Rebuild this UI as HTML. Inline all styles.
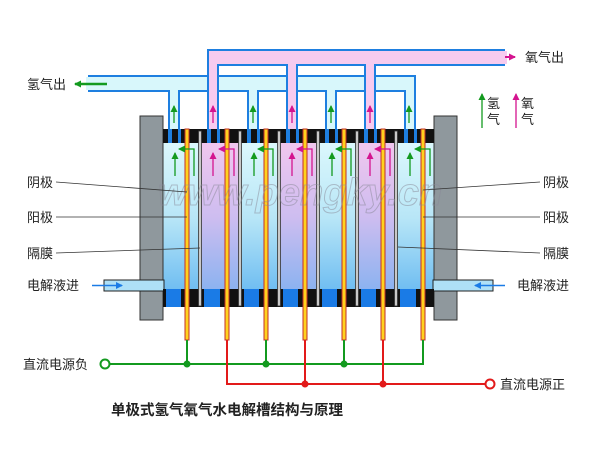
<!DOCTYPE html>
<html><head><meta charset="utf-8"><style>
html,body{margin:0;padding:0;background:#fff}
svg{display:block}
text{font-family:"Liberation Sans","Noto Sans CJK SC",sans-serif;font-size:13px;fill:#222}
</style></head><body>
<svg width="600" height="450" viewBox="0 0 600 450" xmlns="http://www.w3.org/2000/svg">
<defs>
<linearGradient id="cy" x1="0" y1="0" x2="0" y2="1"><stop offset="0" stop-color="#e2fbfd"/><stop offset="0.5" stop-color="#b8e6f7"/><stop offset="1" stop-color="#5fb4f0"/></linearGradient>
<linearGradient id="pk" x1="0" y1="0" x2="0" y2="1"><stop offset="0" stop-color="#f7c8ee"/><stop offset="0.5" stop-color="#cdbdf0"/><stop offset="1" stop-color="#7cb0f0"/></linearGradient>
<marker id="ag" markerUnits="userSpaceOnUse" markerWidth="7" markerHeight="7" refX="6" refY="3.5" orient="auto"><path d="M0,0 L7,3.5 L0,7z" fill="#139a1f"/></marker>
<marker id="ap" markerUnits="userSpaceOnUse" markerWidth="7" markerHeight="7" refX="6" refY="3.5" orient="auto"><path d="M0,0 L7,3.5 L0,7z" fill="#d4148f"/></marker>
<marker id="ab" markerUnits="userSpaceOnUse" markerWidth="7" markerHeight="7" refX="6" refY="3.5" orient="auto"><path d="M0,0 L7,3.5 L0,7z" fill="#1a7be6"/></marker>
</defs>
<rect x="163" y="129" width="271" height="178" fill="url(#cy)"/>
<rect x="200" y="129" width="40" height="178" fill="url(#pk)"/>
<rect x="279" y="129" width="39" height="178" fill="url(#pk)"/>
<rect x="357" y="129" width="39" height="178" fill="url(#pk)"/>
<g fill="#1e7fe0">
<rect x="88" y="75" width="328" height="17"/>
<rect x="168" y="75" width="12" height="56"/><rect x="247" y="75" width="12" height="56"/>
<rect x="325" y="75" width="12" height="56"/><rect x="404" y="75" width="12" height="56"/>
</g>
<g fill="#d8f7fb">
<rect x="86" y="77" width="328" height="13"/>
<rect x="170" y="77" width="8" height="56"/><rect x="249" y="77" width="8" height="56"/>
<rect x="327" y="77" width="8" height="56"/><rect x="406" y="77" width="8" height="56"/>
</g>
<g fill="#1e7fe0">
<rect x="207" y="49" width="298" height="17"/>
<rect x="207" y="49" width="12" height="82"/><rect x="286" y="49" width="12" height="82"/><rect x="364" y="49" width="12" height="82"/>
</g>
<g fill="#f7cbef">
<rect x="209" y="51" width="298" height="13"/>
<rect x="209" y="51" width="8" height="82"/><rect x="288" y="51" width="8" height="82"/><rect x="366" y="51" width="8" height="82"/>
</g>
<g fill="#8f989d" stroke="#333" stroke-width="1">
<rect x="140" y="116" width="23" height="164"/><rect x="140" y="291" width="23" height="29"/>
<rect x="434" y="116" width="23" height="164"/><rect x="434" y="291" width="23" height="29"/>
</g>
<rect x="104" y="280" width="60" height="11" fill="#aee0f7" stroke="#222" stroke-width="1"/>
<rect x="433" y="280" width="60" height="11" fill="#aee0f7" stroke="#222" stroke-width="1"/>
<line x1="92" y1="285.5" x2="122" y2="285.5" stroke="#1a7be6" stroke-width="1.5" marker-end="url(#ab)"/>
<line x1="505" y1="285.5" x2="475" y2="285.5" stroke="#1a7be6" stroke-width="1.5" marker-end="url(#ab)"/>
<rect x="163" y="129" width="271" height="14" fill="#111"/>
<g fill="#1e7fe0">
<rect x="168" y="129" width="4" height="14"/><rect x="178" y="129" width="3" height="14"/>
<rect x="207" y="129" width="4" height="14"/><rect x="217" y="129" width="3" height="14"/>
<rect x="247" y="129" width="4" height="14"/><rect x="257" y="129" width="3" height="14"/>
<rect x="286" y="129" width="4" height="14"/><rect x="296" y="129" width="3" height="14"/>
<rect x="325" y="129" width="4" height="14"/><rect x="335" y="129" width="3" height="14"/>
<rect x="364" y="129" width="4" height="14"/><rect x="374" y="129" width="3" height="14"/>
<rect x="404" y="129" width="4" height="14"/><rect x="414" y="129" width="3" height="14"/>
</g>
<rect x="163" y="289" width="271" height="18" fill="#1a7be6"/>
<g fill="#111">
<rect x="163" y="289" width="3" height="18"/>
<rect x="181" y="289" width="23" height="18"/><rect x="220" y="289" width="24" height="18"/>
<rect x="259" y="289" width="24" height="18"/><rect x="298" y="289" width="24" height="18"/>
<rect x="337" y="289" width="24" height="18"/><rect x="376" y="289" width="24" height="18"/>
<rect x="416" y="289" width="18" height="18"/>
</g>
<g fill="#c9c9c9" stroke="#333" stroke-width="0.8">
<rect x="198.5" y="131" width="3" height="175"/><rect x="238.5" y="131" width="3" height="175"/>
<rect x="277.5" y="131" width="3" height="175"/><rect x="316.5" y="131" width="3" height="175"/>
<rect x="355.5" y="131" width="3" height="175"/><rect x="394.5" y="131" width="3" height="175"/>
</g>
<g fill="#ffd21e" stroke="#c0302a" stroke-width="1">
<rect x="185" y="129" width="4" height="211"/><rect x="225" y="129" width="4" height="211"/>
<rect x="264" y="129" width="4" height="211"/><rect x="303" y="129" width="4" height="211"/>
<rect x="342" y="129" width="4" height="211"/><rect x="381" y="129" width="4" height="211"/>
<rect x="421" y="129" width="4" height="211"/>
</g>
<g stroke="#139a1f" stroke-width="1.3" fill="none">
<line x1="174" y1="123" x2="174" y2="106" marker-end="url(#ag)"/><line x1="253" y1="123" x2="253" y2="106" marker-end="url(#ag)"/>
<line x1="331" y1="123" x2="331" y2="106" marker-end="url(#ag)"/><line x1="409" y1="123" x2="409" y2="106" marker-end="url(#ag)"/>
<line x1="175" y1="176" x2="175" y2="153" marker-end="url(#ag)"/><line x1="254" y1="176" x2="254" y2="153" marker-end="url(#ag)"/>
<line x1="332" y1="176" x2="332" y2="153" marker-end="url(#ag)"/><line x1="410" y1="176" x2="410" y2="153" marker-end="url(#ag)"/>
<path d="M194,176 V149 H179" marker-end="url(#ag)"/><path d="M273,176 V149 H258" marker-end="url(#ag)"/>
<path d="M351,176 V149 H336" marker-end="url(#ag)"/><path d="M430,176 V149 H415" marker-end="url(#ag)"/>
<line x1="482" y1="128" x2="482" y2="94" marker-end="url(#ag)"/>
<line x1="107" y1="84" x2="75" y2="84" stroke-width="2.5" marker-end="url(#ag)"/>
</g>
<g stroke="#d4148f" stroke-width="1.3" fill="none">
<line x1="213" y1="123" x2="213" y2="106" marker-end="url(#ap)"/><line x1="292" y1="123" x2="292" y2="106" marker-end="url(#ap)"/>
<line x1="370" y1="123" x2="370" y2="106" marker-end="url(#ap)"/>
<line x1="213" y1="176" x2="213" y2="153" marker-end="url(#ap)"/><line x1="292" y1="176" x2="292" y2="153" marker-end="url(#ap)"/>
<line x1="370" y1="176" x2="370" y2="153" marker-end="url(#ap)"/>
<path d="M234,176 V149 H219" marker-end="url(#ap)"/><path d="M312,176 V149 H297" marker-end="url(#ap)"/>
<path d="M390,176 V149 H375" marker-end="url(#ap)"/>
<line x1="516" y1="128" x2="516" y2="94" marker-end="url(#ap)"/>
<line x1="505" y1="57" x2="515" y2="57" stroke-width="2" marker-end="url(#ap)"/>
</g>
<text x="300" y="205" text-anchor="middle" style="font-size:38px;font-style:italic;font-weight:bold;fill:none;stroke:#8a8a99;stroke-width:1;opacity:0.5">www.pengky.cn</text>
<g stroke="#333" stroke-width="0.8">
<line x1="56" y1="182" x2="187" y2="192"/><line x1="56" y1="217" x2="187" y2="217"/><line x1="56" y1="253" x2="200" y2="248"/>
<line x1="540" y1="182" x2="423" y2="190"/><line x1="540" y1="217" x2="423" y2="217"/><line x1="540" y1="253" x2="398" y2="247"/>
</g>
<g fill="none" stroke-width="2">
<path d="M187,340 V364 M266,340 V364 M344,340 V364 M423,340 V364 H110" stroke="#139a1f"/>
<path d="M227,340 V384 H485 M305,340 V384 M383,340 V384" stroke="#e21a1a"/>
</g>
<g fill="#139a1f"><circle cx="187" cy="364" r="3.5"/><circle cx="266" cy="364" r="3.5"/><circle cx="344" cy="364" r="3.5"/></g>
<g fill="#e21a1a"><circle cx="305" cy="384" r="3.5"/><circle cx="383" cy="384" r="3.5"/></g>
<circle cx="105" cy="364" r="4.5" fill="#fff" stroke="#139a1f" stroke-width="2"/>
<circle cx="490" cy="384" r="4.5" fill="#fff" stroke="#e21a1a" stroke-width="2"/>
<text x="27" y="89">氢气出</text>
<text x="525" y="62">氧气出</text>
<text x="487" y="108">氢</text><text x="487" y="124">气</text>
<text x="521" y="108">氧</text><text x="521" y="124">气</text>
<text x="27" y="187">阴极</text><text x="27" y="222">阳极</text><text x="27" y="258">隔膜</text>
<text x="27" y="290">电解液进</text>
<text x="543" y="187">阴极</text><text x="543" y="222">阳极</text><text x="543" y="258">隔膜</text>
<text x="517" y="290">电解液进</text>
<text x="23" y="369">直流电源负</text>
<text x="500" y="389">直流电源正</text>
<text x="227" y="415" text-anchor="middle" style="font-size:14.5px;font-weight:bold">单极式氢气氧气水电解槽结构与原理</text>
</svg>
</body></html>
